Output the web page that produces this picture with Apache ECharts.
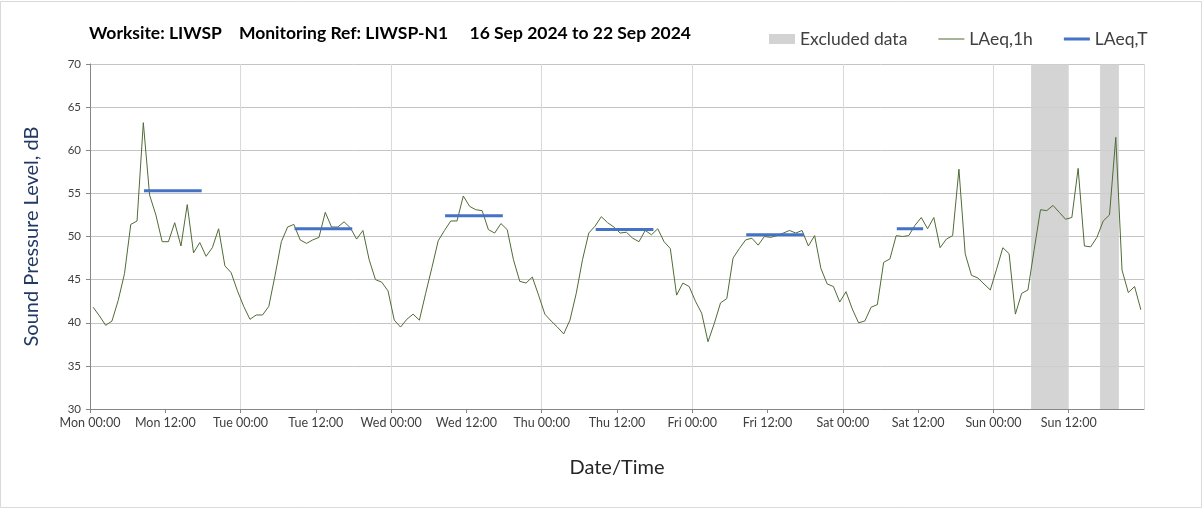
<!DOCTYPE html>
<html>
<head>
<meta charset="utf-8">
<title>LIWSP-N1 noise monitoring</title>
<script src="https://cdn.jsdelivr.net/npm/echarts@6/dist/echarts.min.js"></script>
<style>
  html, body { margin: 0; padding: 0; background: #fff; }
  #chart { width: 1203px; height: 509px; }
</style>
</head>
<body>
<div id="chart"></div>
<script>
// LAeq,1h hourly values, Mon 00:00 onwards (168 hours)
const laeq1h = [
  41.8, 40.8, 39.7, 40.2, 42.6, 45.7, 51.4, 51.8, 63.2, 54.8, 52.5, 49.4,
  49.4, 51.6, 48.9, 53.7, 48.1, 49.3, 47.7, 48.7, 50.9, 46.6, 45.8, 43.7,
  41.9, 40.4, 40.9, 40.9, 41.9, 45.5, 49.4, 51.1, 51.4, 49.6, 49.2, 49.6,
  49.9, 52.8, 51.1, 51.1, 51.7, 51.0, 49.7, 50.7, 47.3, 45.0, 44.7, 43.7,
  40.3, 39.5, 40.4, 41.0, 40.3, 43.4, 46.4, 49.5, 50.7, 51.8, 51.8, 54.7,
  53.5, 53.1, 53.0, 50.8, 50.4, 51.5, 50.8, 47.3, 44.8, 44.6, 45.3, 43.2,
  41.0, 40.2, 39.5, 38.7, 40.3, 43.4, 47.3, 50.4, 51.2, 52.3, 51.6, 51.1,
  50.4, 50.5, 49.8, 49.4, 50.7, 50.2, 50.9, 49.4, 48.6, 43.2, 44.6, 44.2,
  42.5, 41.1, 37.8, 39.9, 42.3, 42.8, 47.5, 48.6, 49.6, 49.8, 49.0, 50.0,
  49.9, 50.1, 50.4, 50.7, 50.4, 50.7, 48.9, 50.1, 46.3, 44.5, 44.2, 42.4,
  43.6, 41.6, 40.0, 40.2, 41.8, 42.1, 47.0, 47.4, 50.1, 50.0, 50.1, 51.3,
  52.2, 50.9, 52.2, 48.7, 49.7, 50.1, 57.8, 48.0, 45.5, 45.2, 44.5, 43.8,
  46.2, 48.7, 48.0, 41.0, 43.4, 43.8, 48.5, 53.1, 53.0, 53.6, 52.8, 52.0,
  52.2, 57.9, 48.9, 48.8, 49.9, 51.8, 52.5, 61.5, 46.1, 43.5, 44.2, 41.5
];

// LAeq,T per daytime period (hours from Mon 00:00)
const laeqT = [55.3, 50.9, 52.4, 50.8, 50.2, 50.9];
const periodStart = [8.6, 32.6, 56.6, 80.6, 104.6, 128.6];
const periodEnd = [17.8, 41.8, 65.8, 89.8, 113.8, 132.8];

// excluded periods (hours from Mon 00:00)
const excludedStart = [150, 161];
const excludedEnd = [156, 164];

const tickLabels = [
  'Mon 00:00', 'Mon 12:00', 'Tue 00:00', 'Tue 12:00', 'Wed 00:00', 'Wed 12:00',
  'Thu 00:00', 'Thu 12:00', 'Fri 00:00', 'Fri 12:00', 'Sat 00:00', 'Sat 12:00',
  'Sun 00:00', 'Sun 12:00'
];

const FONT = 'Lato, "Open Sans", sans-serif';

const chart = echarts.init(document.getElementById('chart'));

const hourlyData = laeq1h.map((v, i) => [i + 0.5, v]);

const series = [
  {
    name: 'Excluded data',
    type: 'line',
    data: [],
    color: '#d3d3d3',
    itemStyle: { color: '#d3d3d3' },
    markArea: {
      silent: true,
      itemStyle: { color: '#cfcfcf', opacity: 0.9 },
      data: excludedStart.map((s, i) => [{ xAxis: s }, { xAxis: excludedEnd[i] }])
    }
  },
  {
    name: 'LAeq,1h',
    type: 'line',
    data: hourlyData,
    symbol: 'none',
    color: '#4f6b35',
    lineStyle: { color: '#4f6b35', width: 1 },
    z: 3
  }
];

// one short series per period, same name so the legend shows it once
laeqT.forEach((v, i) => {
  series.push({
    name: 'LAeq,T',
    type: 'line',
    data: [[periodStart[i], v], [periodEnd[i], v]],
    symbol: 'none',
    color: '#4472c4',
    lineStyle: { color: '#4472c4', width: 3 },
    z: 4
  });
});

// legend icons: thin / thick bars inside a 26x10 box
const thinIcon = 'path://M0,4.5h26v1h-26z M0,0h0.01v10h-0.01z';
const thickIcon = 'path://M0,3.5h26v3h-26z M0,0h0.01v10h-0.01z';

const option = {
  animation: false,
  textStyle: { fontFamily: FONT },
  graphic: [{
    type: 'rect',
    shape: { x: 0.5, y: 1.5, width: 1201, height: 506 },
    style: { fill: 'none', stroke: '#d9d9d9', lineWidth: 1 },
    silent: true
  }],
  title: {
    text: 'Worksite: LIWSP    Monitoring Ref: LIWSP-N1     16 Sep 2024 to 22 Sep 2024',
    left: 84,
    top: 19,
    textStyle: { fontFamily: FONT, fontSize: 17.5, fontWeight: 'bold', color: '#000' }
  },
  legend: {
    left: 764,
    top: 25,
    itemWidth: 26,
    itemHeight: 10,
    itemGap: 31,
    textStyle: { fontFamily: FONT, fontSize: 17.5, color: '#404040' },
    data: [
      { name: 'Excluded data', icon: 'rect' },
      { name: 'LAeq,1h', icon: thinIcon },
      { name: 'LAeq,T', icon: thickIcon }
    ]
  },
  grid: { left: 90, right: 59, top: 64, bottom: 100, containLabel: false },
  xAxis: [
    {
      type: 'value',
      min: 0,
      max: 168,
      interval: 12,
      name: 'Date/Time',
      nameLocation: 'middle',
      nameGap: 49,
      nameTextStyle: { fontFamily: FONT, fontSize: 20, color: '#262626' },
      axisLine: { show: true, lineStyle: { color: '#868686' } },
      axisTick: { show: true, inside: false, length: 4, lineStyle: { color: '#868686' } },
      axisLabel: {
        fontFamily: FONT,
        fontSize: 12.5,
        color: '#404040',
        margin: 7,
        showMaxLabel: false,
        formatter: v => tickLabels[Math.round(v / 12)] || ''
      },
      splitLine: { show: false }
    },
    {
      type: 'value',
      min: 0,
      max: 168,
      interval: 24,
      position: 'bottom',
      axisLine: { show: false },
      axisTick: { show: false },
      axisLabel: { show: false },
      splitLine: { show: true, lineStyle: { color: '#d9d9d9' } }
    }
  ],
  yAxis: {
    type: 'value',
    min: 30,
    max: 70,
    interval: 5,
    name: 'Sound Pressure Level, dB',
    nameLocation: 'middle',
    nameGap: 48,
    nameTextStyle: { fontFamily: FONT, fontSize: 20, color: '#1f3864' },
    axisLine: { show: true, lineStyle: { color: '#868686' } },
    axisTick: { show: true, length: 4, lineStyle: { color: '#868686' } },
    axisLabel: { fontFamily: FONT, fontSize: 11.5, color: '#404040', margin: 9 },
    splitLine: { show: true, lineStyle: { color: '#c4c4c4' } }
  },
  series: series
};

chart.setOption(option);
</script>
</body>
</html>
